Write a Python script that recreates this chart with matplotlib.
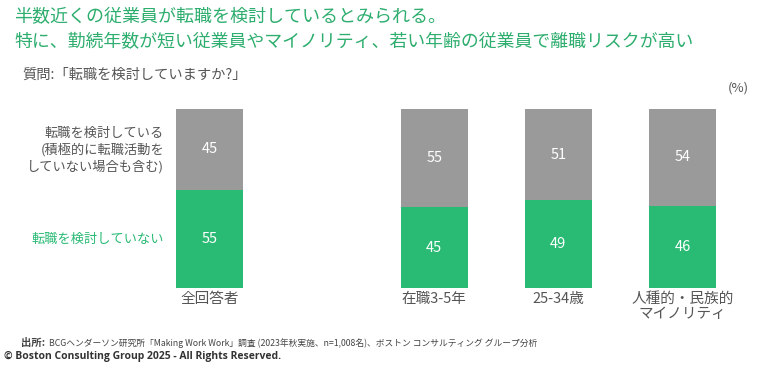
import matplotlib
matplotlib.use("Agg")
from matplotlib import pyplot as plt

plt.rcParams['font.family'] = ['Noto Sans CJK JP', 'DejaVu Sans']

# data
categories = ["全回答者", "在職3-5年", "25-34歳", "人種的・民族的\nマイノリティ"]
not_considering = [55, 45, 49, 46]
considering = [45, 55, 51, 54]
positions = [0, 1.81, 2.81, 3.81]

GREEN = "#29BA74"
GRAY = "#9A9A9A"
TITLE_GREEN = "#2EAE6E"
TEXT_GRAY = "#555555"

fig = plt.figure(figsize=(7.68, 3.66), dpi=100)
ax = fig.add_axes([176 / 768, 1 - 288 / 366, 540 / 768, 179 / 366])

width = 0.54
ax.bar(positions, not_considering, width=width, color=GREEN)
ax.bar(positions, considering, width=width, bottom=not_considering, color=GRAY)

for x, g, c in zip(positions, not_considering, considering):
    ax.text(x, g / 2, str(g), ha="center", va="center", color="white", fontsize=10.5)
    ax.text(x, g + c / 2, str(c), ha="center", va="center", color="white", fontsize=10.5)

ax.set_xlim(-0.27, 4.08)
ax.set_ylim(0, 100)
ax.set_xticks(positions)
ax.set_xticklabels(categories, fontsize=10.5, color=TEXT_GRAY, linespacing=1.05, va="top")
ax.tick_params(axis="x", length=0, pad=3)
ax.set_yticks([])
for s in ax.spines.values():
    s.set_visible(False)

# titles
fig.text(14 / 768, 1 - 17 / 366, "半数近くの従業員が転職を検討しているとみられる。",
         fontsize=13, color=TITLE_GREEN, va="center")
fig.text(14 / 768, 1 - 42 / 366, "特に、勤続年数が短い従業員やマイノリティ、若い年齢の従業員で離職リスクが高い",
         fontsize=12.9, color=TITLE_GREEN, va="center")
fig.text(22 / 768, 1 - 75 / 366, "質問:「転職を検討していますか?」",
         fontsize=10.3, color=TEXT_GRAY, va="center")
fig.text(738 / 768, 1 - 88 / 366, "(%)", fontsize=9.5, color=TEXT_GRAY, va="center", ha="center")

# legend-like labels on the left
fig.text(164 / 768, 1 - 150 / 366, "転職を検討している\n(積極的に転職活動を\nしていない場合も含む)",
         fontsize=9.5, color=TEXT_GRAY, ha="right", va="center", linespacing=1.3)
fig.text(164 / 768, 1 - 239 / 366, "転職を検討していない",
         fontsize=9.5, color=GREEN, ha="right", va="center")

# footer
fig.text(21 / 768, 1 - 343 / 366, "出所:", fontsize=7.5, color="#444444", va="center", weight="bold")
fig.text(49 / 768, 1 - 343 / 366,
         "BCGヘンダーソン研究所「Making Work Work」調査 (2023年秋実施、n=1,008名)、ボストン コンサルティング グループ分析",
         fontsize=6.3, color="#444444", va="center")
fig.text(4 / 768, 1 - 356 / 366, "© Boston Consulting Group 2025 - All Rights Reserved.",
         fontsize=7.5, color="#333333", va="center", weight="bold", family=["Open Sans", "DejaVu Sans"])

fig.savefig("out.png", dpi=100)
